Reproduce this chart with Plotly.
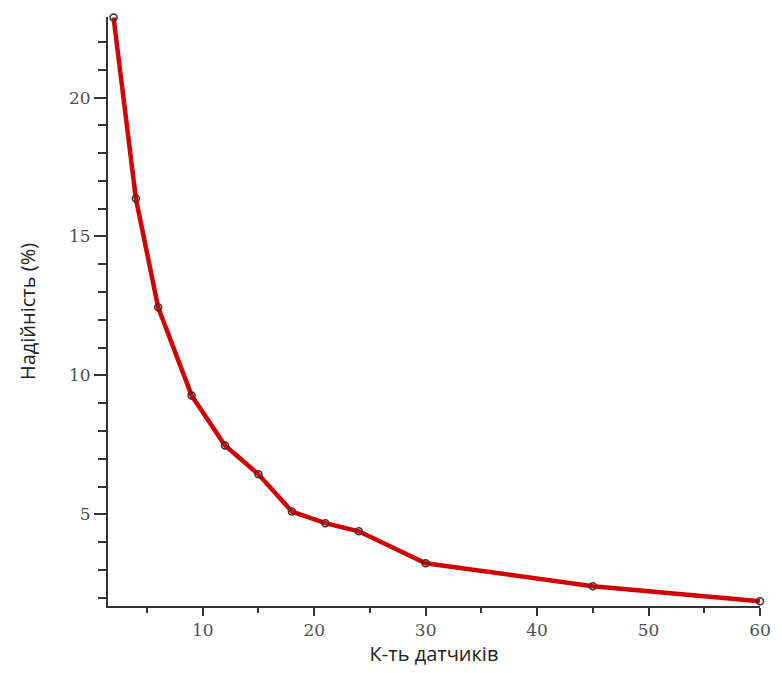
import plotly.graph_objects as go

sensors = [2, 4, 6, 9, 12, 15, 18, 21, 24, 30, 45, 60]
reliability = [22.88, 16.37, 12.45, 9.28, 7.48, 6.44, 5.1, 4.68, 4.39, 3.24, 2.41, 1.87]

x_title = "К-ть датчиків"
y_title = "Надійність (%)"

fig = go.Figure()
fig.add_trace(go.Scatter(
    x=sensors, y=reliability, mode="lines+markers",
    line=dict(color="#d00000", width=4.5),
    marker=dict(symbol="circle-open", size=7, color="#4a2a2a", line=dict(width=1.5)),
    cliponaxis=False, showlegend=False,
))

tickfont = dict(family="DejaVu Serif", size=17, color="#505050")
titlefont = dict(family="Open Sans", size=20, color="#222222")

fig.update_layout(
    width=782, height=673,
    margin=dict(l=108, r=22, t=17, b=67),
    paper_bgcolor="white", plot_bgcolor="white",
    xaxis=dict(
        range=[1.5, 60], showgrid=False, zeroline=False,
        showline=True, linecolor="#333333", linewidth=2,
        tick0=0, dtick=10, ticks="outside", ticklen=8, tickwidth=2, tickcolor="#333333",
        minor=dict(dtick=5, tick0=0, ticks="outside", ticklen=5, tickwidth=2, tickcolor="#333333"),
        tickfont=tickfont,
        title=dict(text=x_title, font=titlefont, standoff=2),
    ),
    yaxis=dict(
        range=[1.7, 22.9], showgrid=False, zeroline=False,
        showline=True, linecolor="#333333", linewidth=2,
        tick0=0, dtick=5, ticks="outside", ticklen=12, tickwidth=2, tickcolor="#333333",
        minor=dict(dtick=1, tick0=0, ticks="outside", ticklen=8, tickwidth=2, tickcolor="#333333"),
        tickfont=tickfont,
        title=dict(text=y_title, font=titlefont, standoff=28),
    ),
)

fig.write_html("out.html")
